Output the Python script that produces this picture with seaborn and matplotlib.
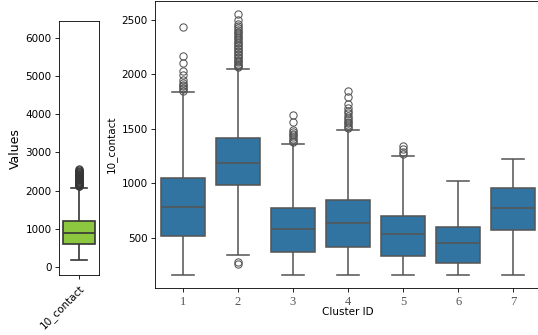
import numpy as np
import pandas as pd
import matplotlib
matplotlib.use("Agg")
import matplotlib.pyplot as plt
import seaborn as sns

# Box statistics, one entry per cluster
cluster_ids = [1, 2, 3, 4, 5, 6, 7]
whisker_low = [155, 344, 155, 155, 155, 155, 155]
q1_values = [515, 984, 371, 410, 329, 265, 567]
median_values = [777, 1183, 582, 637, 530, 453, 768]
q3_values = [1045, 1414, 768, 845, 698, 597, 960]
whisker_high = [1835, 2052, 1359, 1490, 1249, 1018, 1226]
outliers = [
    [1850, 1862, 1875, 1890, 1905, 1920, 1945, 1990, 2025, 2100, 2165, 2435],
    [255, 275, 2065, 2075, 2085, 2095, 2110, 2120, 2135, 2150, 2160, 2175,
     2190, 2200, 2215, 2230, 2245, 2260, 2270, 2285, 2300, 2315, 2330, 2345,
     2360, 2375, 2390, 2405, 2420, 2440, 2465, 2500, 2552],
    [1375, 1390, 1405, 1420, 1440, 1455, 1470, 1490, 1560, 1630],
    [1505, 1520, 1535, 1550, 1565, 1580, 1600, 1620, 1640, 1665, 1690,
     1730, 1790, 1845],
    [1270, 1290, 1310, 1345],
    [],
    [],
]

# Overall 10_contact distribution (left panel)
overall_stats = [170, 594, 898, 1200, 2080]
overall_outliers = [2115, 2125, 2140, 2150, 2165, 2180, 2190, 2205, 2220, 2235,
                    2250, 2265, 2280, 2295, 2310, 2325, 2340, 2355, 2370, 2385,
                    2400, 2415, 2430, 2445, 2460, 2475, 2490, 2510, 2530, 2555]

REPEAT = 200  # copies of each quartile so the percentiles land on them


def make_sample(lo, q1, med, q3, hi, extra):
    return [lo] + [q1] * REPEAT + [med] * REPEAT + [q3] * REPEAT + [hi] + list(extra)


rows = []
for i, cid in enumerate(cluster_ids):
    sample = make_sample(whisker_low[i], q1_values[i], median_values[i],
                         q3_values[i], whisker_high[i], outliers[i])
    for v in sample:
        rows.append({"Cluster ID": cid, "10_contact": v})
df_clusters = pd.DataFrame(rows)
df_overall = pd.DataFrame({"10_contact": make_sample(*overall_stats, overall_outliers)})

fig = plt.figure(figsize=(538 / 75, 335 / 75), dpi=75)
ax_left = fig.add_axes([0.1097, 0.1791, 0.0743, 0.7573])
ax_right = fig.add_axes([0.2881, 0.1394, 0.7175, 0.8576])

sns.boxplot(data=df_overall, ax=ax_left, color="#8dc63f", saturation=1,
            linecolor="#363636", linewidth=1.6, fliersize=7)
ax_left.set_ylim(-210, 6430)
ax_left.set_ylabel("Values", fontsize=12)
ax_left.tick_params(axis="x", labelrotation=45)
for lbl in ax_left.get_xticklabels():
    lbl.set_ha("right")
    lbl.set_rotation_mode("anchor")

sns.boxplot(data=df_clusters, x="Cluster ID", y="10_contact", ax=ax_right,
            linecolor="#555555", linewidth=1.5, fliersize=7)
ax_right.set_ylabel("10_contact")
ax_right.set_xlabel("Cluster ID", labelpad=-1)
for lbl in ax_right.get_xticklabels():
    lbl.set_fontfamily("Liberation Serif")
    lbl.set_fontsize(12)
    lbl.set_color("#555555")

fig.savefig("out.png", dpi=75)
